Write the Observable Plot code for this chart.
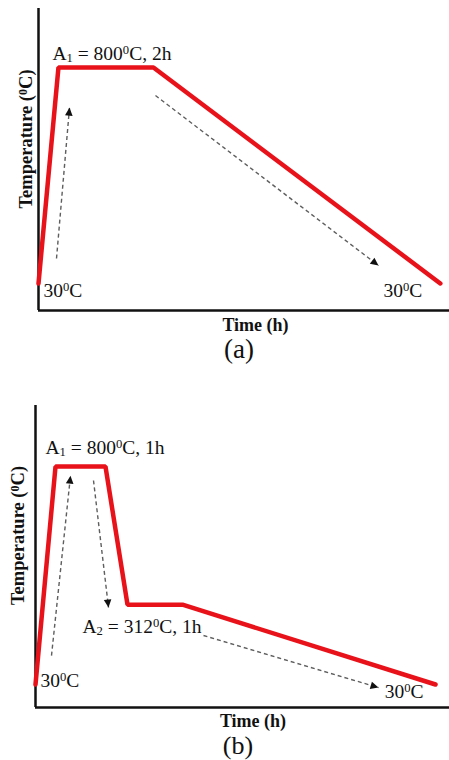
<!DOCTYPE html>
<html><head><meta charset="utf-8">
<script src="https://cdn.jsdelivr.net/npm/d3@7"></script>
<script src="https://cdn.jsdelivr.net/npm/@observablehq/plot@0.6"></script>
<style>
html,body{margin:0;padding:0;background:#fff;}
#chart{width:449px;}
#chart svg{display:block;}
</style></head><body><div id="chart"></div>
<script>
// ---- data (schematic heat-treatment cycles) ----
// panel (a): time in h, temperature in °C
const timeA = [0, 0.42, 2.42, 8.46];
const tempA = [30, 800, 800, 30];
// panel (b)
const timeB = [0, 0.4, 1.4, 1.84, 2.94, 8.0];
const tempB = [30, 800, 800, 312, 312, 30];
// dashed guide arrows (start -> end), in data units
const arrowA_t1 = [0.379, 2.463], arrowA_v1 = [119, 700], arrowA_t2 = [0.653, 7.158], arrowA_v2 = [657, 94];
const arrowB_t1 = [0.32, 1.16, 3.36], arrowB_v1 = [132, 751, 203], arrowB_t2 = [0.70, 1.46, 6.86], arrowB_v2 = [768, 302, 19];
// texts
const annotA = ["A₁ = 800⁰C, 2h", "30⁰C", "30⁰C"];
const annotB = ["A₁ = 800⁰C, 1h", "A₂ = 312⁰C, 1h", "30⁰C", "30⁰C"];
const xLabel = "Time (h)";
const yLabel = "Temperature (⁰C)";
const panelLabels = ["(a)", "(b)"];

const FONT = '"Liberation Serif","Times New Roman",serif';
const RED = "#e8121a";
const INK = "#111";

const profileA = timeA.map((t, i) => ({t, v: tempA[i]}));
const profileB = timeB.map((t, i) => ({t, v: tempB[i]}));
const arrowsA = arrowA_t1.map((t, i) => ({x1: t, y1: arrowA_v1[i], x2: arrowA_t2[i], y2: arrowA_v2[i]}));
const arrowsB = arrowB_t1.map((t, i) => ({x1: t, y1: arrowB_v1[i], x2: arrowB_t2[i], y2: arrowB_v2[i]}));

function label(text, t, v, o) {
  return Plot.text([{t, v, text}], {x: "t", y: "v", text: "text", fontSize: 19.5, fill: INK, lineAnchor: "bottom", ...o});
}
function frameText(text, o) {
  return Plot.text([text], {text: d => d, fill: INK, lineAnchor: "bottom", ...o});
}
function commonMarks(profile, arrows, yMin) {
  return [
    Plot.ruleX([0], {stroke: INK, strokeWidth: 2.5}),
    Plot.ruleY([yMin], {stroke: INK, strokeWidth: 2.5}),
    Plot.link(arrows, {x1: "x1", y1: "y1", x2: "x2", y2: "y2", stroke: "#5e5e5e", strokeWidth: 1.4, strokeDasharray: "4,3", markerEnd: "arrow"}),
    Plot.line(profile, {x: "t", y: "v", stroke: RED, strokeWidth: 4.5, strokeLinejoin: "miter", strokeLinecap: "round"})
  ];
}
const style = {fontFamily: FONT, fontSize: "18px", color: INK, background: "#fff", overflow: "visible"};

const yDomA = [-66.3, 1010.4];
const plotA = Plot.plot({
  width: 449, height: 366, marginTop: 8, marginLeft: 38, marginRight: 0, marginBottom: 56,
  x: {domain: [0, 8.653], axis: null},
  y: {domain: yDomA, axis: null},
  style,
  marks: [
    ...commonMarks(profileA, arrowsA, yDomA[0]),
    label(annotA[0], timeA[1], tempA[1], {textAnchor: "start", dx: -6, dy: -8}),
    label(annotA[1], timeA[0], tempA[0], {textAnchor: "start", dx: 5, dy: 14}),
    label(annotA[2], timeA[3], tempA[3], {textAnchor: "end", dx: -18, dy: 14}),
    frameText(xLabel, {frameAnchor: "bottom", textAnchor: "middle", dx: 11.5, dy: 20, fontWeight: "bold", fontSize: 18}),
    frameText(yLabel, {frameAnchor: "left", textAnchor: "middle", rotate: -90, dx: -7, dy: -20.5, fontWeight: "bold", fontSize: 18.5}),
    frameText(panelLabels[0], {frameAnchor: "bottom", textAnchor: "middle", dx: -5, dy: 47, fontSize: 27})
  ]
});

const yDomB = [-51.3, 1015.9];
const plotB = Plot.plot({
  width: 449, height: 394, marginTop: 39, marginLeft: 35, marginRight: 0, marginBottom: 53,
  x: {domain: [0, 8.28], axis: null},
  y: {domain: yDomB, axis: null},
  style,
  marks: [
    ...commonMarks(profileB, arrowsB, yDomB[0]),
    label(annotB[0], timeB[1], tempB[1], {textAnchor: "start", dx: -10, dy: -13}),
    label(annotB[1], timeB[3], tempB[3], {textAnchor: "start", dx: -45, dy: 28}),
    label(annotB[2], timeB[0], tempB[0], {textAnchor: "start", dx: 5, dy: 3}),
    label(annotB[3], timeB[5], tempB[5], {textAnchor: "end", dx: -12, dy: 14}),
    frameText(xLabel, {frameAnchor: "bottom", textAnchor: "middle", dx: 10.5, dy: 19, fontWeight: "bold", fontSize: 18}),
    frameText(yLabel, {frameAnchor: "left", textAnchor: "middle", rotate: -90, dx: -11.5, dy: -21, fontWeight: "bold", fontSize: 18.5}),
    frameText(panelLabels[1], {frameAnchor: "bottom", textAnchor: "middle", dx: -4.5, dy: 46, fontSize: 26})
  ]
});

const NS = "http://www.w3.org/2000/svg";
const scriptMap = {"⁰": ["0", "super"], "₁": ["1", "sub"], "₂": ["2", "sub"]};
function fixScripts(svg) {
  svg.querySelectorAll("text").forEach(t => {
    const targets = t.querySelector("tspan") ? [...t.querySelectorAll("tspan")] : [t];
    targets.forEach(el => {
      const s = el.textContent;
      if (!/[⁰₁₂]/.test(s)) return;
      el.textContent = "";
      s.split(/([⁰₁₂])/).forEach(part => {
        if (!part) return;
        if (scriptMap[part]) {
          const ts = document.createElementNS(NS, "tspan");
          ts.setAttribute("font-size", "65%");
          ts.setAttribute("baseline-shift", scriptMap[part][1] === "super" ? "45%" : "-12%");
          ts.textContent = scriptMap[part][0];
          el.appendChild(ts);
        } else el.appendChild(document.createTextNode(part));
      });
    });
  });
}
function fixMarkers(svg) {
  svg.querySelectorAll("marker").forEach(m => {
    m.setAttribute("markerUnits", "userSpaceOnUse");
    m.setAttribute("viewBox", "-9 -5 10 10");
    m.setAttribute("markerWidth", 10);
    m.setAttribute("markerHeight", 10);
    m.setAttribute("refX", 0);
    m.setAttribute("refY", 0);
    m.setAttribute("fill", INK);
    m.setAttribute("stroke", "none");
    m.setAttribute("stroke-dasharray", "none");
    m.innerHTML = "";
    const p = document.createElementNS(NS, "path");
    p.setAttribute("d", "M-8,-3.8L0,0L-8,3.8Z");
    p.setAttribute("fill", INK);
    p.setAttribute("stroke", "none");
    m.appendChild(p);
  });
}
const root = document.getElementById("chart");
[plotA, plotB].forEach(p => { fixScripts(p); fixMarkers(p); root.appendChild(p); });
</script></body></html>
